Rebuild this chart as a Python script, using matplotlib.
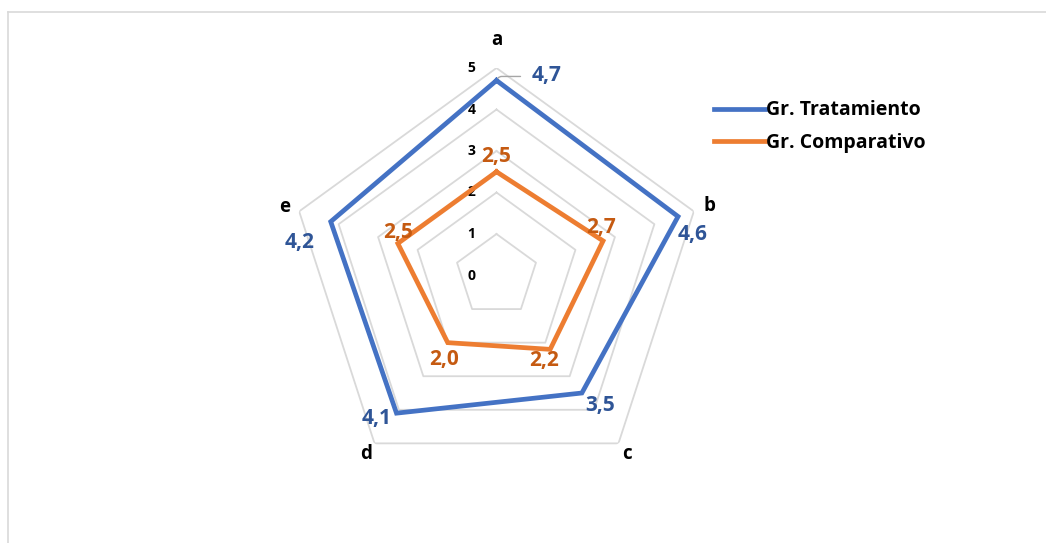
import numpy as np
import matplotlib
matplotlib.use("Agg")
import matplotlib.pyplot as plt
from matplotlib.lines import Line2D

# datos
categorias = ["a", "b", "c", "d", "e"]
tratamiento = [4.7, 4.6, 3.5, 4.1, 4.2]
comparativo = [2.5, 2.7, 2.2, 2.0, 2.5]
niveles = [0, 1, 2, 3, 4, 5]

AZUL = "#4472C4"
NARANJA = "#ED7D31"
AZUL_TXT = "#2F5597"
NARANJA_TXT = "#C55A11"
GRIS = "#D9D9D9"

plt.rcParams["font.family"] = ["Open Sans", "DejaVu Sans"]
plt.rcParams["font.weight"] = "bold"

W, H = 1046, 543
fig = plt.figure(figsize=(W / 100, H / 100), dpi=100)
fig.patch.set_facecolor("white")

# borde del area del grafico (solo se ven izquierda y arriba)
fig.add_artist(Line2D([7.5 / W, 7.5 / W], [0, 1 - 11.5 / H], color=GRIS, lw=1.2))
fig.add_artist(Line2D([7.5 / W, 1], [1 - 11.5 / H, 1 - 11.5 / H], color=GRIS, lw=1.2))

cx, cy, R = 496.5, 275.5, 207.5
ax = fig.add_axes([(cx - R) / W, (H - cy - R) / H, 2 * R / W, 2 * R / H],
                  projection="polar")
ax.set_theta_zero_location("N")
ax.set_theta_direction(-1)
ax.set_ylim(0, 5)
ax.axis("off")

n = len(categorias)
ang = np.arange(n) * 2 * np.pi / n
ang_c = np.append(ang, ang[0])

# rejilla pentagonal
for v in niveles[1:]:
    ax.plot(ang_c, [v] * (n + 1), color=GRIS, lw=1.3, zorder=1)

# etiquetas de escala
for v in niveles:
    ax.annotate(str(v), xy=(0, v), xytext=(-18, 0), textcoords="offset points",
                ha="center", va="center", fontsize=10, fontweight="bold", color="black")

# etiquetas de categoria
r_cat = [5.67, 5.4, 5.33, 5.33, 5.37]
for a, lab, r in zip(ang, categorias, r_cat):
    ax.text(a, r, lab, ha="center", va="center", fontsize=13.5, fontweight="bold",
            color="black")

# series
ax.plot(ang_c, tratamiento + tratamiento[:1], color=AZUL, lw=3.4, zorder=3,
        solid_joinstyle="miter", label="Gr. Tratamiento")
ax.plot(ang_c, comparativo + comparativo[:1], color=NARANJA, lw=3.4, zorder=3,
        solid_joinstyle="miter", label="Gr. Comparativo")

# etiquetas de datos (desplazamientos en pixeles)
off_t = [(50, 5), (15, -18), (18, -12), (-20, -5), (-31, -21)]
off_c = [(0, 15), (-2, 13), (-6, -11), (-4, -17), (0, 11)]
for a, v, (dx, dy) in zip(ang, tratamiento, off_t):
    ax.annotate(f"{v:.1f}".replace(".", ","), xy=(a, v),
                xytext=(dx * 0.72, dy * 0.72), textcoords="offset points",
                ha="center", va="center", fontsize=15, fontweight="bold",
                color=AZUL_TXT, zorder=5)
for a, v, (dx, dy) in zip(ang, comparativo, off_c):
    ax.annotate(f"{v:.1f}".replace(".", ","), xy=(a, v),
                xytext=(dx * 0.72, dy * 0.72), textcoords="offset points",
                ha="center", va="center", fontsize=15, fontweight="bold",
                color=NARANJA_TXT, zorder=5)

# linea guia de la etiqueta 4,7
ax.annotate("", xy=(0, tratamiento[0]), xytext=(24 * 0.72, 4 * 0.72),
            textcoords="offset points",
            arrowprops=dict(arrowstyle="-", color="#A6A6A6", lw=1,
                            connectionstyle="angle,angleA=0,angleB=60,rad=3",
                            shrinkA=0, shrinkB=2))

leg = fig.legend(loc="center left", bbox_to_anchor=(714 / W, 1 - 126.5 / H),
                 frameon=False, fontsize=14, handlelength=2.6, handletextpad=0.1,
                 labelspacing=0.62, borderpad=0, borderaxespad=0)
for t in leg.get_texts():
    t.set_fontweight("bold")

fig.savefig("out.png", dpi=100, facecolor="white")
